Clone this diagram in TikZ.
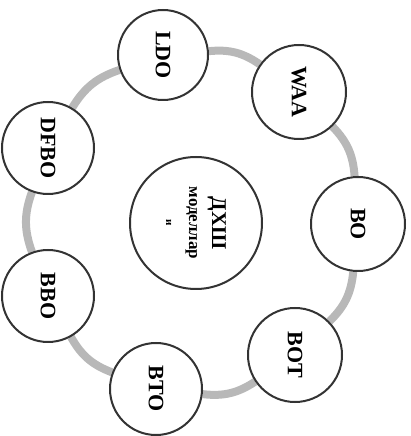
\documentclass[tikz,border=0pt]{standalone}
\usepackage{fontspec}
\setmainfont{Liberation Serif}
\usetikzlibrary{backgrounds}
\begin{document}
\begin{tikzpicture}[x=1pt,y=1pt,
  ring/.style={circle, draw=black!80, line width=2pt, fill=white, inner sep=0pt,
    font=\fontsize{22}{24}\selectfont\bfseries, rotate=-90},
  link/.style={draw=black!28, line width=8pt, bend left=20}]
\useasboundingbox (0,0) rectangle (411,436);
\node[ring, minimum size=90pt] (LDO)  at (163,381) {LDO};
\node[ring, minimum size=94pt] (WAA)  at (299,344) {WAA};
\node[ring, minimum size=94pt] (BO)   at (358,212) {BO};
\node[ring, minimum size=94pt] (BOT)  at (295,81)  {BOT};
\node[ring, minimum size=92pt] (BTO)  at (156,47)  {BTO};
\node[ring, minimum size=92pt] (BBO)  at (48,140)  {BBO};
\node[ring, minimum size=92pt] (DFBO) at (48,288)  {DFBO};
\node[ring, minimum size=132pt, align=center] (C) at (196,213)
  {{\fontsize{21}{24}\selectfont ДХШ}\\[-1pt]
   {\fontsize{17}{20}\selectfont моделлар}\\[-1pt]
   {\fontsize{11}{13}\selectfont и}};
\begin{pgfonlayer}{background}
\draw[link] (LDO) to (WAA);
\draw[link] (WAA) to (BO);
\draw[link] (BO) to (BOT);
\draw[link] (BOT) to (BTO);
\draw[link] (BTO) to (BBO);
\draw[link] (BBO) to (DFBO);
\draw[link] (DFBO) to (LDO);
\end{pgfonlayer}
\end{tikzpicture}
\end{document}
